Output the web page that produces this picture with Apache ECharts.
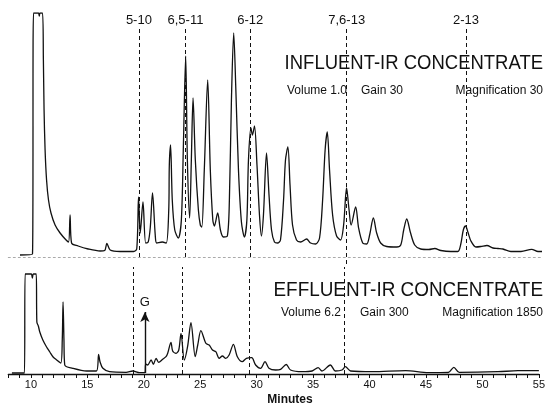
<!DOCTYPE html>
<html>
<head>
<meta charset="utf-8">
<title>Influent / Effluent IR concentrate</title>
<script src="https://cdn.jsdelivr.net/npm/echarts@6/dist/echarts.min.js"></script>
<style>
  html, body { margin: 0; padding: 0; background: #fff; }
  #chart { width: 548px; height: 407px; }
</style>
</head>
<body>
<div id="chart"></div>
<script>
// retention time (minutes) and detector response
const influentTime = [
  9.03, 10.13, 10.22, 10.53, 10.66, 10.73, 10.79, 11.01, 11.09, 11.15, 11.24, 11.37, 11.54, 11.76,
  12.12, 12.56, 13.09, 13.31, 13.44, 13.57, 14.15, 15.03, 16.09, 16.49, 16.68, 16.97, 17.85, 19.0,
  19.31, 19.47, 19.62, 19.86, 20.10, 20.32, 20.50, 20.70, 20.94, 21.07, 21.56, 21.91, 22.13, 22.18,
  22.29, 22.44, 22.66, 22.97, 23.24, 23.41, 23.62, 23.77, 23.97, 24.12, 24.27, 24.47, 24.74, 24.91,
  25.04, 25.26, 25.56, 25.79, 26.01, 26.15, 26.44, 26.68, 26.94, 27.29, 27.47, 27.65, 27.85, 28.04,
  28.27, 28.53, 28.79, 29.01, 29.15, 29.37, 29.50, 29.68, 29.90, 30.12, 30.29, 30.47, 30.74, 30.96,
  31.18, 31.44, 31.71, 31.97, 32.24, 32.41, 32.62, 32.81, 33.03, 33.38, 33.74, 34.27, 34.62, 35.06,
  35.41, 35.68, 35.90, 36.09, 36.29, 36.56, 36.91, 37.26, 37.53, 37.79, 38.01, 38.19, 38.59, 38.85,
  39.21, 39.56, 39.82, 40.15, 40.44, 40.79, 41.32, 42.21, 42.56, 42.82, 43.09, 43.40, 43.79, 44.32,
  45.03, 45.56, 46.09, 46.97, 47.59, 47.85, 48.07, 48.27, 48.47, 48.74, 49.18, 49.62, 50.15, 50.68,
  51.12, 51.56, 52.26, 53.15, 54.09, 54.65, 55.0
];
const influentSignal = [
  2, 3, 244, 244, 244, 241, 244, 244, 197, 147, 107, 77, 57, 44,
  32, 24, 17, 15, 42, 14, 11, 8, 6, 6.5, 13.5, 7, 5.5, 5.5,
  8, 60, 24, 55, 14, 15, 29, 64, 22, 14, 15, 14, 47, 92,
  112, 57, 27, 19, 37, 107, 201, 97, 39, 97, 159, 97, 47, 32,
  30, 87, 177, 87, 37, 31, 44, 27, 20, 21, 57, 157, 224, 167,
  87, 35, 20, 37, 97, 129, 122, 131, 92, 42, 21, 42, 104, 62,
  27, 15, 14, 17, 57, 97, 110, 72, 32, 17, 15, 18, 14, 13,
  19, 57, 107, 125, 87, 42, 21, 17, 32, 69, 47, 32, 50, 29,
  14, 13, 22, 39, 24, 14, 10.5, 10, 12, 27, 38, 25, 12, 8,
  7.5, 8.5, 6.5, 5.5, 5.5, 13, 27, 31, 25, 16, 10, 10.5, 11.5, 9,
  8.5, 8, 5.5, 5.5, 7.7, 5.5, 5.5
];

// effluent trace
const effluentTime = [
  8.32, 9.43, 9.49, 9.91, 10.05, 10.13, 10.22, 10.47, 10.53, 10.66, 10.79, 11.06, 11.39, 11.68,
  11.97, 12.29, 12.65, 12.78, 12.85, 12.93, 13.0, 13.71, 14.94, 15.8, 16.0, 16.13, 16.38, 16.97,
  18.44, 19.03, 19.62, 20.10, 20.17, 20.35, 20.65, 20.85, 21.09, 21.32, 21.67, 21.97, 22.12, 22.41,
  22.56, 22.86, 23.10, 23.30, 23.59, 23.88, 24.18, 24.56, 24.78, 25.06, 25.50, 25.79, 26.09, 26.38,
  26.68, 26.97, 27.26, 27.56, 27.94, 28.29, 28.73, 29.09, 29.56, 29.91, 30.35, 30.74, 31.09, 31.68,
  32.12, 32.62, 33.0, 34.03, 34.91, 35.44, 35.79, 36.53, 36.97, 37.56, 37.86, 38.32, 40.26, 43.2,
  45.21, 46.97, 47.47, 47.94, 51.38, 53.15, 55.0
];
const effluentSignal = [
  1, 1, 100, 100, 100, 96, 100, 100, 52, 48, 42, 34, 27, 22,
  17, 14, 11, 34, 72, 34, 9, 5.7, 3, 3, 19.7, 12, 5.7, 2.3,
  1.7, 3, 1.3, 1.3, 10, 9, 14, 9.7, 15.7, 11.7, 14.7, 17.3, 20.7, 31.7,
  23, 20.7, 24, 40.7, 14, 27.3, 51.3, 17.3, 29, 43.3, 30.7, 29, 24, 22.3,
  15.7, 18, 15.7, 19, 29.7, 17.3, 12.3, 15.7, 16.3, 9, 5.7, 12.3, 5.7, 4,
  4.7, 9.5, 4, 2.3, 3, 6.3, 3, 9, 3, 4, 7.3, 3, 2.3, 3.3,
  1.3, 1.5, 6.7, 1.7, 2.3, 3.3, 3.3
];

// dashed reference lines (minutes) and their compound labels
const influentMarks = [19.5, 23.6, 29.3, 37.8, 48.3];
const influentMarkLabels = ['5-10', '6,5-11', '6-12', '7,6-13', '2-13'];
const effluentMarks = [19.1, 23.4, 29.3, 37.8];
const gasTime = 20.1;

const font = '"Liberation Sans", Arial, sans-serif';
const ink = '#111';

const pair = (t, v) => t.map((x, i) => [x, v[i]]);

const chart = echarts.init(document.getElementById('chart'));

const option = {
  animation: false,
  backgroundColor: '#fff',
  textStyle: { fontFamily: font, color: ink },
  grid: [
    { left: 8.3, right: 6, top: 13, bottom: 140 },
    { left: 8.3, right: 6, top: 267, bottom: 33 }
  ],
  xAxis: [
    {
      gridIndex: 0, type: 'value', min: 8, max: 55,
      axisLine: { show: true, onZero: true, lineStyle: { color: '#aaa', width: 1, type: [2, 3] } },
      axisTick: { show: false }, axisLabel: { show: false }, splitLine: { show: false }
    },
    {
      gridIndex: 1, type: 'value', min: 8, max: 55, interval: 1,
      axisLine: { show: true, lineStyle: { color: ink, width: 1.3 } },
      axisTick: { show: true, length: 4, lineStyle: { color: ink, width: 1 } },
      axisLabel: {
        margin: 5, fontSize: 11, color: ink, fontFamily: font,
        formatter: v => (v % 5 === 0 ? String(v) : '')
      },
      splitLine: { show: false }
    }
  ],
  yAxis: [
    { gridIndex: 0, type: 'value', min: -10, max: 244, show: false },
    { gridIndex: 1, type: 'value', min: 0, max: 107, show: false }
  ],
  series: [
    {
      name: 'Influent',
      type: 'line',
      xAxisIndex: 0, yAxisIndex: 0,
      data: pair(influentTime, influentSignal),
      showSymbol: false,
      smooth: 0.3,
      lineStyle: { color: ink, width: 1.3 },
      markLine: {
        silent: true,
        symbol: 'none',
        lineStyle: { color: ink, width: 1, type: [4, 3] },
        label: { show: true, position: 'start', distance: 2, formatter: '{b}', fontSize: 13, color: ink, fontFamily: font },
        data: influentMarks.map((t, i) => [
          { name: influentMarkLabels[i], coord: [t, 228] },
          { coord: [t, influentMarkLabels[i] === '7,6-13' ? -10 : 0] }
        ])
      }
    },
    {
      name: 'Effluent',
      type: 'line',
      xAxisIndex: 1, yAxisIndex: 1,
      data: pair(effluentTime, effluentSignal),
      showSymbol: false,
      smooth: 0.3,
      lineStyle: { color: ink, width: 1.3 },
      markLine: {
        silent: true,
        symbol: 'none',
        lineStyle: { color: ink, width: 1, type: [4, 3] },
        label: { show: false },
        data: effluentMarks.map(t => [
          { coord: [t, 0] },
          { coord: [t, 107] }
        ]).concat([[
          { coord: [gasTime, 1], symbol: 'none', lineStyle: { type: 'solid', width: 1.4 } },
          { coord: [gasTime, 62], symbol: 'arrow', symbolSize: [7, 10], name: 'G',
            label: { show: true, position: 'end', distance: 3, formatter: 'G', fontSize: 13, color: ink } }
        ]])
      }
    }
  ],
  graphic: [
    { type: 'text', x: 543, y: 63, scaleX: 0.88,
      style: { text: 'INFLUENT-IR CONCENTRATE', font: '21px ' + font, fill: ink, textAlign: 'right', textVerticalAlign: 'middle' } },
    { type: 'text', x: 287, y: 91,
      style: { text: 'Volume 1.0', font: '12px ' + font, fill: ink, textAlign: 'left', textVerticalAlign: 'middle' } },
    { type: 'text', x: 361, y: 91,
      style: { text: 'Gain 30', font: '12px ' + font, fill: ink, textAlign: 'left', textVerticalAlign: 'middle' } },
    { type: 'text', x: 543, y: 91,
      style: { text: 'Magnification 30', font: '12px ' + font, fill: ink, textAlign: 'right', textVerticalAlign: 'middle' } },
    { type: 'text', x: 543, y: 290, scaleX: 0.9,
      style: { text: 'EFFLUENT-IR CONCENTRATE', font: '21px ' + font, fill: ink, textAlign: 'right', textVerticalAlign: 'middle' } },
    { type: 'text', x: 281, y: 313,
      style: { text: 'Volume 6.2', font: '12px ' + font, fill: ink, textAlign: 'left', textVerticalAlign: 'middle' } },
    { type: 'text', x: 360, y: 313,
      style: { text: 'Gain 300', font: '12px ' + font, fill: ink, textAlign: 'left', textVerticalAlign: 'middle' } },
    { type: 'text', x: 543, y: 313,
      style: { text: 'Magnification 1850', font: '12px ' + font, fill: ink, textAlign: 'right', textVerticalAlign: 'middle' } },
    { type: 'text', x: 290, y: 400,
      style: { text: 'Minutes', font: 'bold 12px ' + font, fill: ink, textAlign: 'center', textVerticalAlign: 'middle' } }
  ]
};

chart.setOption(option);
</script>
</body>
</html>
